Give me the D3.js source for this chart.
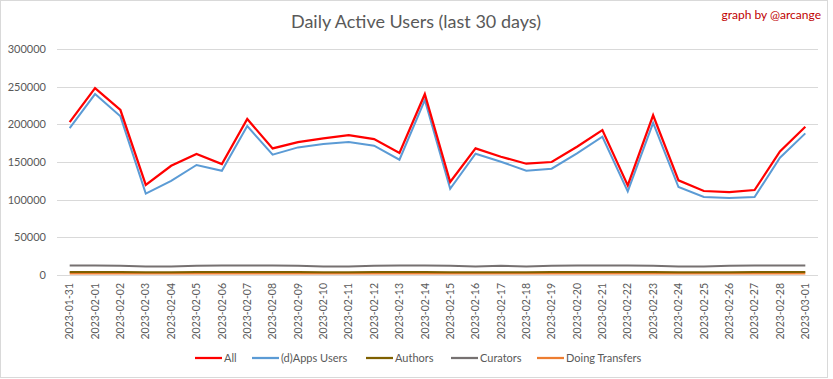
<!DOCTYPE html>
<html>
<head>
<meta charset="utf-8">
<script src="https://cdn.jsdelivr.net/npm/d3@7"></script>
<style>
  body { margin: 0; background: #fff; }
  text { font-family: Lato, "Open Sans", sans-serif; }
</style>
</head>
<body>
<div id="chart"></div>
<script>
// data
var dates = ["2023-01-31","2023-02-01","2023-02-02","2023-02-03","2023-02-04","2023-02-05","2023-02-06",
  "2023-02-07","2023-02-08","2023-02-09","2023-02-10","2023-02-11","2023-02-12","2023-02-13","2023-02-14",
  "2023-02-15","2023-02-16","2023-02-17","2023-02-18","2023-02-19","2023-02-20","2023-02-21","2023-02-22",
  "2023-02-23","2023-02-24","2023-02-25","2023-02-26","2023-02-27","2023-02-28","2023-03-01"];
var allUsers = [203000,248000,219000,119500,145000,160600,147300,207000,168000,176500,181400,185800,180500,161900,
  240000,123400,168100,157000,147700,150000,170300,192400,119000,212000,125700,111500,110100,112800,164100,196800];
var appsUsers = [195000,240200,210600,108000,125000,146000,138400,197700,159700,169400,173800,176500,171600,153000,
  232200,114500,161000,150400,138400,141100,161500,183500,111000,202000,116800,103500,102200,103500,155700,188000];
var authors = [4000,4000,3900,3700,3700,3900,4000,4000,4000,3900,3800,3800,3900,4000,4000,
  3800,3700,3800,3700,3900,4000,4000,3900,3900,3700,3700,3800,3900,4000,4000];
var curators = [12500,12500,12400,11200,11300,12300,12500,12500,12500,12400,11300,11300,12300,12500,12500,
  12300,11300,12200,11300,12400,12500,12500,12500,12300,11200,11300,12300,12500,12500,12500];
var transfers = [2100,2100,2000,1900,1900,2000,2100,2100,2100,2000,2000,2000,2000,2100,2100,
  2000,1900,2000,1900,2000,2100,2100,2000,2000,1900,1900,2000,2000,2100,2100];
var yTicks = [0,50000,100000,150000,200000,250000,300000];

var seriesNames = ["All","(d)Apps Users","Authors","Curators","Doing Transfers"];
var seriesValues = [allUsers, appsUsers, authors, curators, transfers];
var colors = ["#ff0000","#5b9bd5","#7f6000","#767171","#ed7d31"];
var widths = [2.25, 2, 2, 2, 2];

var width = 833, height = 379;
var plotLeft = 57, plotRight = 818, plotTop = 49, plotBottom = 275;

var svg = d3.select("#chart").append("svg")
    .attr("width", width)
    .attr("height", height);

// outer border
svg.append("rect")
    .attr("x", 0.5).attr("y", 0.5)
    .attr("width", 827).attr("height", 377)
    .attr("fill", "#fff")
    .attr("stroke", "#d9d9d9");

var x = d3.scaleBand().domain(dates).range([plotLeft, plotRight]);
var y = d3.scaleLinear().domain([0, 300000]).range([plotBottom, plotTop]);

// gridlines
svg.append("g")
    .selectAll("line")
    .data(yTicks)
    .enter().append("line")
    .attr("x1", plotLeft).attr("x2", plotRight)
    .attr("y1", d => Math.round(y(d)) + 0.5)
    .attr("y2", d => Math.round(y(d)) + 0.5)
    .attr("stroke", "#d9d9d9")
    .attr("stroke-width", 1);

// y axis labels
var leftAxis = d3.axisLeft(y).tickValues(yTicks).tickFormat(d3.format("d")).tickSize(0).tickPadding(11);
var gy = svg.append("g")
    .attr("transform", "translate(" + plotLeft + ",0)")
    .call(leftAxis);
gy.select(".domain").remove();
gy.selectAll("text")
    .attr("fill", "#595959")
    .style("font-size", "11px");

// x axis labels
var bottomAxis = d3.axisBottom(x).tickSize(0).tickPadding(0);
var gx = svg.append("g")
    .attr("transform", "translate(0," + plotBottom + ")")
    .call(bottomAxis);
gx.select(".domain").remove();
gx.selectAll("text")
    .attr("fill", "#595959")
    .style("font-size", "10.5px")
    .attr("text-anchor", "end")
    .attr("transform", "rotate(-90)")
    .attr("x", -8)
    .attr("y", 0)
    .attr("dy", "0.35em");

// lines, drawn bottom series first
var line = d3.line()
    .x((d, i) => x(dates[i]) + x.bandwidth() / 2)
    .y(d => y(d));

for (var s = seriesValues.length - 1; s >= 0; s--) {
  svg.append("path")
      .datum(seriesValues[s])
      .attr("fill", "none")
      .attr("stroke", colors[s])
      .attr("stroke-width", widths[s])
      .attr("stroke-linejoin", "miter")
      .attr("d", line);
}

// title
svg.append("text")
    .attr("x", 416).attr("y", 28)
    .attr("text-anchor", "middle")
    .attr("fill", "#595959")
    .style("font-size", "18px")
    .text("Daily Active Users (last 30 days)");

svg.append("text")
    .attr("x", 821).attr("y", 19)
    .attr("text-anchor", "end")
    .attr("fill", "#c00000")
    .style("font-size", "12px")
    .text("graph by @arcange");

// legend
var legendX = [195, 252, 366, 451, 537];
var legend = svg.append("g");
seriesNames.forEach(function(name, i) {
  legend.append("line")
      .attr("x1", legendX[i]).attr("x2", legendX[i] + 27)
      .attr("y1", 358).attr("y2", 358)
      .attr("stroke", colors[i])
      .attr("stroke-width", 2.25);
  legend.append("text")
      .attr("x", legendX[i] + 29).attr("y", 362)
      .attr("fill", "#595959")
      .style("font-size", "11px")
      .text(name);
});
</script>
</body>
</html>
